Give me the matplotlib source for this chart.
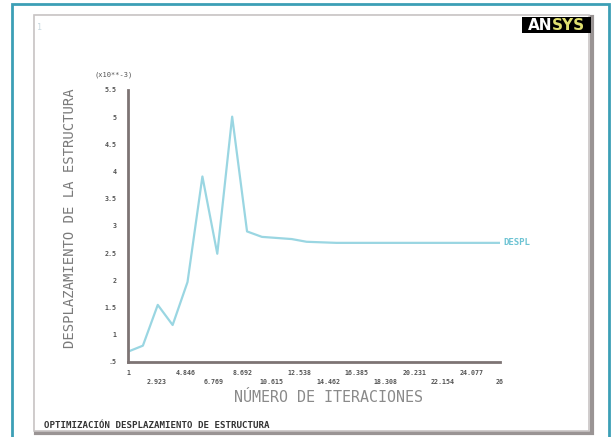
import matplotlib.pyplot as plt
from matplotlib.patches import Rectangle

# iteration number vs displacement (x10**-3)
iterations = list(range(1, 27))
displacement = [0.69, 0.80, 1.55, 1.18, 1.97, 3.91, 2.49, 5.01, 2.90, 2.80,
                2.78, 2.76, 2.71, 2.70, 2.69, 2.69, 2.69, 2.69, 2.69, 2.69,
                2.69, 2.69, 2.69, 2.69, 2.69, 2.69]

y_ticks = [0.5, 1, 1.5, 2, 2.5, 3, 3.5, 4, 4.5, 5, 5.5]
y_tick_labels = ['.5', '1', '1.5', '2', '2.5', '3', '3.5', '4', '4.5', '5', '5.5']
x_ticks = [1, 2.923, 4.846, 6.769, 8.692, 10.615, 12.538, 14.462,
           16.385, 18.308, 20.231, 22.154, 24.077, 26]
x_tick_labels = ['1', '2.923', '4.846', '6.769', '8.692', '10.615', '12.538',
                 '14.462', '16.385', '18.308', '20.231', '22.154', '24.077', '26']

W, H = 616, 437
fig = plt.figure(figsize=(W / 100, H / 100), dpi=100)
fig.patch.set_facecolor('white')


def fx(px):
    return px / W


def fy(py):
    return 1 - py / H


# outer teal frame and grey panel (behind the axes)
fig.patches.append(Rectangle((fx(12), fy(438)), fx(609) - fx(12), fy(4) - fy(438),
                             transform=fig.transFigure, fill=False,
                             edgecolor='#3c9fb6', linewidth=2, zorder=-10))
fig.patches.append(Rectangle((fx(36), fy(433)), fx(592) - fx(36), fy(17) - fy(433),
                             transform=fig.transFigure, fill=False,
                             edgecolor='#9a9494', linewidth=3, zorder=-10))
fig.patches.append(Rectangle((fx(34), fy(431)), fx(589) - fx(34), fy(15) - fy(431),
                             transform=fig.transFigure, facecolor='white',
                             edgecolor='#c8c4c4', linewidth=1.2, zorder=-9))

ax = fig.add_axes([fx(128), fy(362), fx(500) - fx(128), (362 - 90) / H])
ax.set_facecolor('none')
ax.plot(iterations, displacement, color='#9ad6e2', linewidth=1.6)
ax.set_xlim(1, 26)
ax.set_ylim(0.5, 5.5)
for s in ['top', 'right']:
    ax.spines[s].set_visible(False)
for s in ['left', 'bottom']:
    ax.spines[s].set_color('#7d7474')
    ax.spines[s].set_linewidth(2)

ax.set_yticks(y_ticks)
ax.set_yticklabels(y_tick_labels, fontsize=4.8, color='#555555',
                   family='DejaVu Sans Mono', fontweight='bold')
ax.tick_params(axis='y', length=0, pad=8)
ax.set_xticks(x_ticks)
ax.set_xticklabels([])
ax.tick_params(axis='x', length=0)
for i, (t, lab) in enumerate(zip(x_ticks, x_tick_labels)):
    off = -0.04 if i % 2 == 0 else -0.075
    ax.text(t, off, lab, transform=ax.get_xaxis_transform(), ha='center',
            va='center', fontsize=4.8, color='#555555',
            family='DejaVu Sans Mono', fontweight='bold')

# curve label at line end
ax.text(26.2, displacement[-1], 'DESPL', fontsize=6.5, color='#6cc3d3',
        family='DejaVu Sans Mono', fontweight='bold', va='center', ha='left',
        clip_on=False)

fig.text(fx(95), fy(75), '(x10**-3)', fontsize=5, color='#555555',
         family='DejaVu Sans Mono', va='center', ha='left')
fig.text(fx(70), fy(218), 'DESPLAZAMIENTO DE LA ESTRUCTURA', rotation=90,
         fontsize=10, color='#7a7a7a', family='DejaVu Sans Mono',
         ha='center', va='center')
fig.text(fx(328), fy(398), 'NÚMERO DE ITERACIONES', fontsize=10.8,
         color='#8a8a8a', family='DejaVu Sans Mono', ha='center', va='center')
fig.text(fx(44), fy(425), 'OPTIMIZACIÓN DESPLAZAMIENTO DE ESTRUCTURA',
         fontsize=6.6, color='#333333', family='DejaVu Sans Mono',
         fontweight='bold', ha='left', va='center')
fig.text(fx(40), fy(28), '1', fontsize=6, color='#c8d8e0',
         family='DejaVu Sans Mono', ha='center', va='center')

# ANSYS logo
fig.patches.append(Rectangle((fx(522), fy(33)), fx(591) - fx(522), fy(17) - fy(33),
                             transform=fig.transFigure, facecolor='black',
                             edgecolor='none'))
fig.text(fx(552), fy(25.5), 'AN', fontsize=11, color='white', fontweight='bold',
         family='DejaVu Sans', ha='right', va='center')
fig.text(fx(552), fy(25.5), 'SYS', fontsize=11, color='#e0e070', fontweight='bold',
         family='DejaVu Sans', ha='left', va='center')

fig.savefig('out.png', dpi=100)
